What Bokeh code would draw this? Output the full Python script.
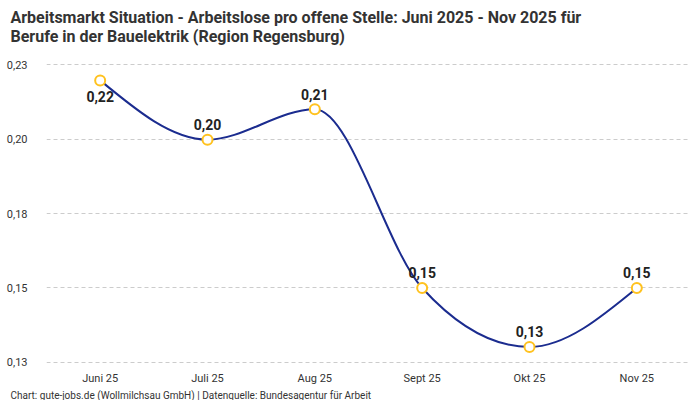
from bokeh.plotting import figure
from bokeh.models import ColumnDataSource, FixedTicker, Title
from bokeh.embed import file_html
from bokeh.resources import INLINE

months = ["Juni 25", "Juli 25", "Aug 25", "Sept 25", "Okt 25", "Nov 25"]
values = [0.2197, 0.1998, 0.2100, 0.1500, 0.1302, 0.1500]
y_ticks = [0.125, 0.15, 0.175, 0.2, 0.225]
y_tick_labels = ["0,13", "0,15", "0,18", "0,20", "0,23"]

FONT = "Roboto"
NAVY = "#1b2c8f"
GOLD = "#ffc21f"

xs = list(range(len(months)))

# monotone-x tangents (d3 style) so the curve keeps flat tops/bottoms
def slopes(x, y):
    n = len(x)
    t = [0.0] * n
    for i in range(1, n - 1):
        h0, h1 = x[i] - x[i - 1], x[i + 1] - x[i]
        s0, s1 = (y[i] - y[i - 1]) / h0, (y[i + 1] - y[i]) / h1
        p = (s0 * h1 + s1 * h0) / (h0 + h1)
        sg = (1 if s0 > 0 else -1 if s0 < 0 else 0) + (1 if s1 > 0 else -1 if s1 < 0 else 0)
        t[i] = sg * min(abs(s0), abs(s1), 0.5 * abs(p))
    t[0] = (3 * (y[1] - y[0]) / (x[1] - x[0]) - t[1]) / 2
    t[-1] = (3 * (y[-1] - y[-2]) / (x[-1] - x[-2]) - t[-2]) / 2
    return t

m = slopes(xs, values)
seg = dict(x0=xs[:-1], y0=values[:-1], x1=xs[1:], y1=values[1:],
           cx0=[x + 1 / 3 for x in xs[:-1]],
           cy0=[values[i] + m[i] / 3 for i in range(len(xs) - 1)],
           cx1=[x - 1 / 3 for x in xs[1:]],
           cy1=[values[i + 1] - m[i + 1] / 3 for i in range(len(xs) - 1)])

labels = ["{:.2f}".format(v).replace(".", ",") for v in values]
offsets = [16 if i == 0 else -15 for i in range(len(values))]
pts = ColumnDataSource(dict(x=xs, y=values, label=labels, off=offsets))

p = figure(width=700, height=400, x_range=(-0.5, 5.5), y_range=(0.1243, 0.2294),
           output_backend="svg", toolbar_location=None,
           min_border_left=46, min_border_right=10, min_border_top=0, min_border_bottom=3)

p.title.text = "Arbeitsmarkt Situation - Arbeitslose pro offene Stelle: Juni 2025 - Nov 2025 für\nBerufe in der Bauelektrik (Region Regensburg)"
p.title.text_font = FONT
p.title.text_font_size = "16px"
p.title.text_font_style = "bold"
p.title.text_color = "#333333"
p.title.offset = -36
p.title.standoff = 11

p.add_layout(Title(text="Chart: gute-jobs.de (Wollmilchsau GmbH) | Datenquelle: Bundesagentur für Arbeit",
                   text_font=FONT, text_font_size="10px", text_font_style="normal",
                   text_color="#333333", offset=-36, standoff=0), "below")

p.bezier("x0", "y0", "x1", "y1", "cx0", "cy0", "cx1", "cy1",
         source=ColumnDataSource(seg), line_color=NAVY, line_width=2)
p.scatter("x", "y", source=pts, size=10, fill_color="white", line_color=GOLD, line_width=2)
p.text("x", "y", text="label", source=pts, y_offset="off", text_align="center",
       text_baseline="middle", text_font_size="14px", text_font_style="bold",
       text_color="#222222", text_font={"value": FONT})

p.outline_line_color = None
p.background_fill_color = "white"
p.border_fill_color = "white"

p.xgrid.grid_line_color = None
p.ygrid.grid_line_color = "#cccccc"
p.ygrid.grid_line_dash = "4 3"
p.ygrid.grid_line_width = 1

p.yaxis.ticker = FixedTicker(ticks=y_ticks)
p.yaxis.major_label_overrides = dict(zip(y_ticks, y_tick_labels))
p.xaxis.ticker = FixedTicker(ticks=xs)
p.xaxis.major_label_overrides = dict(zip(xs, months))

for ax in (p.xaxis, p.yaxis):
    ax.axis_line_color = None
    ax.major_tick_line_color = None
    ax.minor_tick_line_color = None
    ax.major_label_text_font = FONT
    ax.major_label_text_font_size = "11px"
    ax.major_label_text_color = "#333333"
p.yaxis.major_label_standoff = 13
p.xaxis.major_label_standoff = 1

open("out.html", "w").write(file_html(p, INLINE))
